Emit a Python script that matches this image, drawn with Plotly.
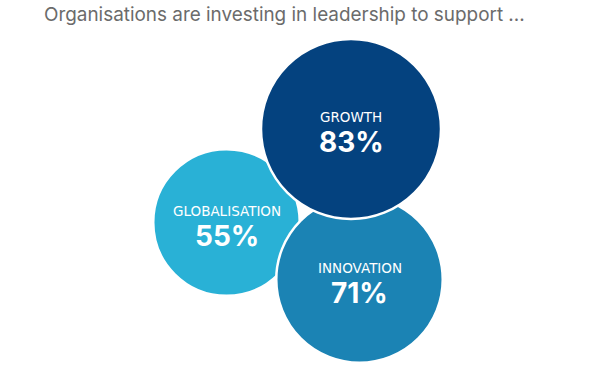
import plotly.graph_objects as go

# Data
categories = ["Globalisation", "Innovation", "Growth"]
labels = ["GLOBALISATION", "INNOVATION", "GROWTH"]
values = [55, 71, 83]
value_text = ["55%", "71%", "83%"]
title_text = "Organisations are investing in leadership to support ..."

# Layout (bubble centres on a 600x368 canvas-like axis)
pos_x = [226.5, 359.5, 351]
pos_y = [222.5, 279.5, 129]
colors = ["#29B1D6", "#1B83B4", "#04427F"]
sizeref = 2 * 83 / (180 ** 2)

fig = go.Figure()
fig.add_trace(go.Scatter(
    x=pos_x, y=pos_y, mode="markers",
    marker=dict(size=values, sizemode="area", sizeref=sizeref,
                color=colors, opacity=1,
                line=dict(color="white", width=2.5)),
    hoverinfo="skip", showlegend=False,
))

for lab, vt, x, y in zip(labels, value_text, pos_x, pos_y):
    fig.add_annotation(x=x, y=y - 12, text=lab, showarrow=False,
                       font=dict(family="DejaVu Sans", size=13.5, color="white"),
                       xanchor="center", yanchor="middle")
    fig.add_annotation(x=x, y=y + 13, text="<b>" + vt + "</b>", showarrow=False,
                       font=dict(family="Inter", size=28, color="white"),
                       xanchor="center", yanchor="middle")

fig.add_annotation(x=42, y=14, text=title_text, showarrow=False,
                   font=dict(family="Inter", size=18.9, color="#6b6b6b"),
                   xanchor="left", yanchor="middle")

fig.update_layout(
    width=600, height=368,
    margin=dict(l=0, r=0, t=0, b=0),
    paper_bgcolor="white", plot_bgcolor="white",
    xaxis=dict(range=[0, 600], visible=False, fixedrange=True),
    yaxis=dict(range=[368, 0], visible=False, fixedrange=True),
)

fig.write_html("out.html")
